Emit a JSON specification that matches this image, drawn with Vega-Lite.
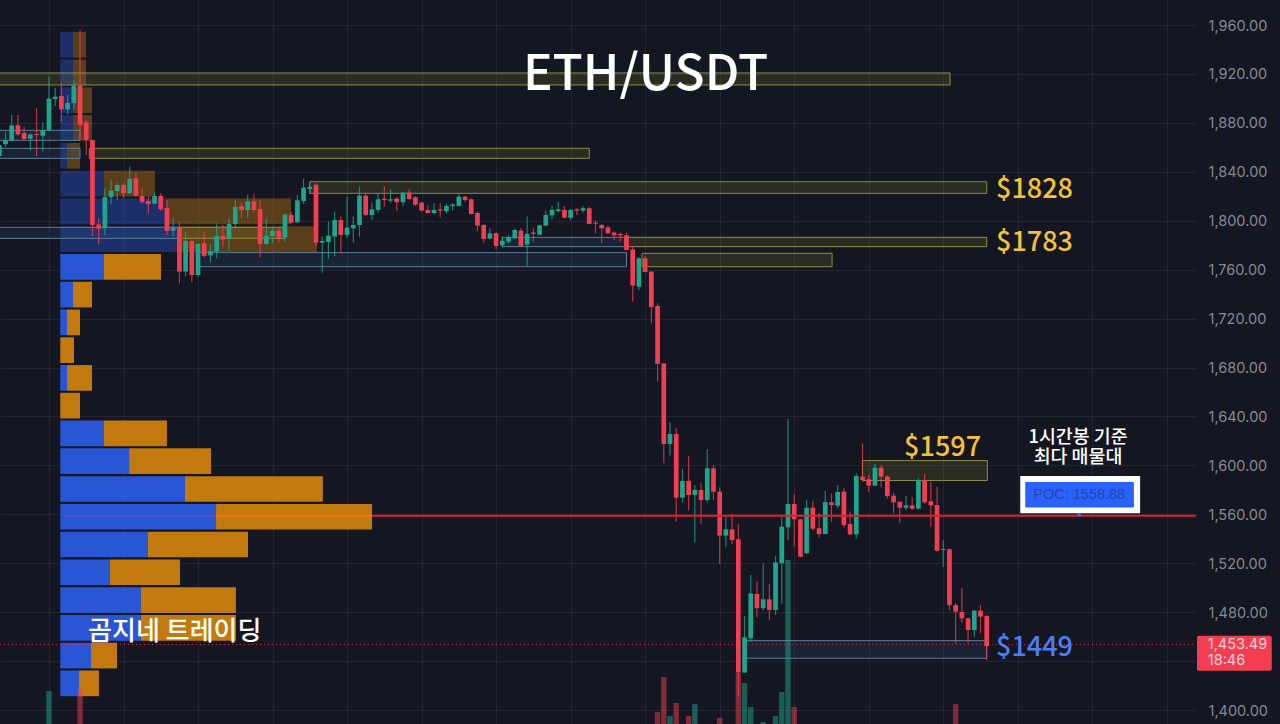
{
  "$schema": "https://vega.github.io/schema/vega-lite/v6.json",
  "width": 1196,
  "height": 724,
  "autosize": {"type": "none"},
  "padding": {"left": 0, "top": 0, "right": 84, "bottom": 0},
  "background": "#141621",
  "view": {"stroke": null},
  "datasets": {
    "candles": [
      {"i":0,"o":1852.9,"h":1864.6,"l":1852.4,"c":1861.9},{"i":1,"o":1862.5,"h":1872.8,"l":1860.5,"c":1866},{"i":2,"o":1866,"h":1886.4,"l":1864.6,"c":1878},{"i":3,"o":1878,"h":1886.4,"l":1869.3,"c":1870.6},
      {"i":4,"o":1871.7,"h":1876.9,"l":1866,"c":1866.8},{"i":5,"o":1867.1,"h":1872,"l":1857.3,"c":1870.4},{"i":6,"o":1870.9,"h":1891.9,"l":1852.9,"c":1870.1},{"i":7,"o":1869.5,"h":1880.2,"l":1856.5,"c":1873.9},
      {"i":8,"o":1873.9,"h":1917.8,"l":1873.4,"c":1899.8},{"i":9,"o":1899.5,"h":1908.8,"l":1893.8,"c":1901.4},{"i":10,"o":1902,"h":1913.1,"l":1881,"c":1891.1},{"i":11,"o":1891.1,"h":1902.8,"l":1887,"c":1896.2},
      {"i":12,"o":1896.2,"h":1915,"l":1891.1,"c":1910.4},{"i":13,"o":1910.4,"h":1955.9,"l":1866,"c":1878.3},{"i":14,"o":1880.4,"h":1882.4,"l":1853.7,"c":1866},{"i":15,"o":1866,"h":1866,"l":1787.5,"c":1796.5},
      {"i":16,"o":1797,"h":1802,"l":1780.7,"c":1793.5},{"i":17,"o":1793.8,"h":1826.5,"l":1788.3,"c":1819.4},{"i":18,"o":1819.1,"h":1833.8,"l":1813.7,"c":1824.6},{"i":19,"o":1824.3,"h":1831.1,"l":1816.9,"c":1829.2},
      {"i":20,"o":1829.2,"h":1830.6,"l":1818.3,"c":1822.4},{"i":21,"o":1822.4,"h":1844.2,"l":1821.9,"c":1834.1},{"i":22,"o":1834.7,"h":1838.8,"l":1819.7,"c":1820.5},{"i":23,"o":1820.2,"h":1826.5,"l":1813.7,"c":1815.3},
      {"i":24,"o":1816.1,"h":1820.2,"l":1805.5,"c":1813.7},{"i":25,"o":1814,"h":1822.9,"l":1813.7,"c":1820.2},{"i":26,"o":1820.2,"h":1822.4,"l":1808.2,"c":1809.3},{"i":27,"o":1810.4,"h":1816.9,"l":1788.3,"c":1791.6},
      {"i":28,"o":1791.9,"h":1802,"l":1787,"c":1794.6},{"i":29,"o":1794,"h":1799.2,"l":1748.8,"c":1758.4},{"i":30,"o":1758.4,"h":1791,"l":1754.8,"c":1783.4},{"i":31,"o":1783.2,"h":1784.2,"l":1750.2,"c":1755.6},
      {"i":32,"o":1755.6,"h":1781.5,"l":1754.3,"c":1781},{"i":33,"o":1781.5,"h":1791,"l":1770.1,"c":1771.2},{"i":34,"o":1771.7,"h":1781,"l":1765.7,"c":1775.3},{"i":35,"o":1774.7,"h":1797.9,"l":1769.3,"c":1787.5},
      {"i":36,"o":1787.5,"h":1796.5,"l":1778.8,"c":1784.8},{"i":37,"o":1785.6,"h":1802,"l":1775.5,"c":1797.3},{"i":38,"o":1797.3,"h":1816.9,"l":1793.8,"c":1811.2},{"i":39,"o":1812,"h":1814.8,"l":1802,"c":1808.8},
      {"i":40,"o":1808.8,"h":1821,"l":1802,"c":1815.8},{"i":41,"o":1815.8,"h":1821.9,"l":1807.4,"c":1808.8},{"i":42,"o":1809.6,"h":1816.9,"l":1770.1,"c":1781},{"i":43,"o":1781,"h":1802,"l":1780.2,"c":1787.5},
      {"i":44,"o":1787.5,"h":1795.2,"l":1781.5,"c":1791.6},{"i":45,"o":1791.9,"h":1793.8,"l":1782.1,"c":1785.6},{"i":46,"o":1786.4,"h":1806,"l":1782.9,"c":1805},{"i":47,"o":1804.7,"h":1807.4,"l":1797.9,"c":1798.4},
      {"i":48,"o":1798.7,"h":1821,"l":1797.9,"c":1816.7},{"i":49,"o":1816.1,"h":1834.4,"l":1813.7,"c":1827},{"i":50,"o":1825.9,"h":1831.9,"l":1821.9,"c":1827.8},{"i":51,"o":1829.5,"h":1830.6,"l":1778.8,"c":1782.1},
      {"i":52,"o":1782.1,"h":1787,"l":1757.5,"c":1783.4},{"i":53,"o":1782.6,"h":1799.2,"l":1769,"c":1787.8},{"i":54,"o":1787,"h":1807.4,"l":1771.2,"c":1800.6},{"i":55,"o":1800.6,"h":1803.4,"l":1773.9,"c":1788.4},
      {"i":56,"o":1788.4,"h":1819.7,"l":1785.6,"c":1794.4},{"i":57,"o":1793.8,"h":1803.4,"l":1782.1,"c":1796.5},{"i":58,"o":1796.5,"h":1827.9,"l":1787,"c":1820.5},{"i":59,"o":1820.5,"h":1822.4,"l":1803.9,"c":1804.7},
      {"i":60,"o":1804.7,"h":1814.8,"l":1800.6,"c":1809.3},{"i":61,"o":1808.8,"h":1821.9,"l":1806.6,"c":1817.5},{"i":62,"o":1818.1,"h":1828.4,"l":1811.5,"c":1817},{"i":63,"o":1816.4,"h":1825.7,"l":1814.8,"c":1817.5},
      {"i":64,"o":1818.1,"h":1819.2,"l":1808.3,"c":1815.1},{"i":65,"o":1815.1,"h":1823.8,"l":1812.1,"c":1823},{"i":66,"o":1823,"h":1825.7,"l":1817,"c":1817.8},{"i":67,"o":1819.2,"h":1820.2,"l":1812.1,"c":1813.2},
      {"i":68,"o":1814.8,"h":1815.3,"l":1807.7,"c":1808.3},{"i":69,"o":1808.8,"h":1812.9,"l":1806.1,"c":1806.3},{"i":70,"o":1806.3,"h":1814.3,"l":1805.5,"c":1808.8},{"i":71,"o":1809.3,"h":1814.3,"l":1802.8,"c":1808.3},
      {"i":72,"o":1807.7,"h":1813.7,"l":1806.1,"c":1812.1},{"i":73,"o":1812.1,"h":1814.3,"l":1808.3,"c":1813.2},{"i":74,"o":1812.1,"h":1821.9,"l":1811.5,"c":1819.7},{"i":75,"o":1819.7,"h":1820.2,"l":1815.6,"c":1817},
      {"i":76,"o":1817.5,"h":1818.3,"l":1805,"c":1805.5},{"i":77,"o":1806.3,"h":1807.4,"l":1791.4,"c":1796},{"i":78,"o":1796.5,"h":1797.4,"l":1782.1,"c":1785.1},{"i":79,"o":1785.4,"h":1793.8,"l":1784.8,"c":1789.7},
      {"i":80,"o":1789.7,"h":1790.3,"l":1776.6,"c":1779.4},{"i":81,"o":1779.9,"h":1787,"l":1778.3,"c":1783.5},{"i":82,"o":1782.9,"h":1788.4,"l":1781,"c":1786.5},{"i":83,"o":1785.6,"h":1793.8,"l":1785.1,"c":1792.4},
      {"i":84,"o":1791.9,"h":1793.8,"l":1778.3,"c":1779.4},{"i":85,"o":1780.5,"h":1803.4,"l":1762.5,"c":1789.2},{"i":86,"o":1790.3,"h":1793.8,"l":1782.9,"c":1789.2},{"i":87,"o":1788.6,"h":1796.5,"l":1788.1,"c":1796.3},
      {"i":88,"o":1796,"h":1808.3,"l":1795.7,"c":1804.7},{"i":89,"o":1804.4,"h":1812.1,"l":1801.2,"c":1808.8},{"i":90,"o":1808,"h":1815.6,"l":1806.6,"c":1809.3},{"i":91,"o":1808.8,"h":1812.1,"l":1802,"c":1802.5},
      {"i":92,"o":1802.5,"h":1809.3,"l":1800.6,"c":1808.8},{"i":93,"o":1809.3,"h":1810.2,"l":1804.7,"c":1808.3},{"i":94,"o":1808.3,"h":1812.1,"l":1806.6,"c":1810.2},{"i":95,"o":1810.2,"h":1811.5,"l":1797.1,"c":1797.4},
      {"i":96,"o":1798.4,"h":1800.6,"l":1789.7,"c":1797.6},{"i":97,"o":1796.5,"h":1797.1,"l":1781.6,"c":1793.8},{"i":98,"o":1794.6,"h":1795.7,"l":1788.9,"c":1789.7},{"i":99,"o":1790.3,"h":1791.1,"l":1784.3,"c":1788.1},
      {"i":100,"o":1789.2,"h":1790.3,"l":1782.9,"c":1788.1},{"i":101,"o":1788.1,"h":1790.3,"l":1775.6,"c":1776.1},{"i":102,"o":1776.6,"h":1779.4,"l":1733.9,"c":1747},{"i":103,"o":1746.1,"h":1770.1,"l":1743.4,"c":1769.3},
      {"i":104,"o":1769.3,"h":1771.2,"l":1757.6,"c":1758.1},{"i":105,"o":1758.4,"h":1758.9,"l":1716.2,"c":1729.5},{"i":106,"o":1730.3,"h":1732.5,"l":1668.5,"c":1682.9},{"i":107,"o":1683.4,"h":1683.4,"l":1601.7,"c":1617.5},
      {"i":108,"o":1617.5,"h":1635.2,"l":1608,"c":1625.7},{"i":109,"o":1625.7,"h":1630.3,"l":1554,"c":1573.6},{"i":110,"o":1573.6,"h":1597,"l":1569.8,"c":1587.3},{"i":111,"o":1587.3,"h":1607.7,"l":1563,"c":1575.8},
      {"i":112,"o":1575.8,"h":1584,"l":1536.9,"c":1579.9},{"i":113,"o":1579.9,"h":1585.4,"l":1552.1,"c":1571.7},{"i":114,"o":1571.7,"h":1613.4,"l":1569.5,"c":1597.6},{"i":115,"o":1597.6,"h":1600.3,"l":1571.7,"c":1578.5},
      {"i":116,"o":1578.5,"h":1582.1,"l":1519.4,"c":1542.6},{"i":117,"o":1542.6,"h":1558.6,"l":1533,"c":1547.7},{"i":118,"o":1547.7,"h":1560.3,"l":1535.7,"c":1539},{"i":119,"o":1539.6,"h":1552.1,"l":1410.9,"c":1430.6},
      {"i":120,"o":1430.6,"h":1476.9,"l":1430.6,"c":1459.4},{"i":121,"o":1458.6,"h":1510.4,"l":1455.9,"c":1495.4},{"i":122,"o":1494.9,"h":1505,"l":1475.8,"c":1483.2},{"i":123,"o":1483.2,"h":1519.9,"l":1481.2,"c":1490.5},
      {"i":124,"o":1490.5,"h":1503,"l":1473.6,"c":1481.8},{"i":125,"o":1481.8,"h":1525.9,"l":1477.7,"c":1520.5},{"i":126,"o":1519.9,"h":1558.1,"l":1486.7,"c":1549.9},{"i":127,"o":1549.4,"h":1637.9,"l":1539,"c":1568.4},
      {"i":128,"o":1568.4,"h":1576.6,"l":1533.6,"c":1555.9},{"i":129,"o":1555.9,"h":1555.9,"l":1524.8,"c":1525.3},{"i":130,"o":1528.1,"h":1571.7,"l":1527.5,"c":1565.4},{"i":131,"o":1565.4,"h":1571.1,"l":1546.6,"c":1548.2},
      {"i":132,"o":1548.5,"h":1561.3,"l":1541.1,"c":1543.9},{"i":133,"o":1543.9,"h":1579.3,"l":1543.6,"c":1570},{"i":134,"o":1569.8,"h":1577.1,"l":1554,"c":1567.6},{"i":135,"o":1567,"h":1583.9,"l":1564.9,"c":1578.2},
      {"i":136,"o":1578.5,"h":1581.2,"l":1549.3,"c":1551.2},{"i":137,"o":1552,"h":1562.2,"l":1543.1,"c":1543.6},{"i":138,"o":1543.6,"h":1593.5,"l":1540.3,"c":1591.3},{"i":139,"o":1590.8,"h":1618,"l":1586.7,"c":1588},
      {"i":140,"o":1588.6,"h":1592.1,"l":1578.5,"c":1583.4},{"i":141,"o":1583.4,"h":1601.1,"l":1583.1,"c":1598.1},{"i":142,"o":1598.1,"h":1600.3,"l":1582,"c":1590.8},{"i":143,"o":1590.8,"h":1592.1,"l":1573,"c":1574.9},
      {"i":144,"o":1575.2,"h":1577.7,"l":1560.8,"c":1569.8},{"i":145,"o":1570.3,"h":1570.3,"l":1553.1,"c":1565.4},{"i":146,"o":1565.4,"h":1575.2,"l":1563.5,"c":1567.3},{"i":147,"o":1567.3,"h":1573.9,"l":1564,"c":1564.6},
      {"i":148,"o":1564.6,"h":1589.4,"l":1564,"c":1588},{"i":149,"o":1588,"h":1592.9,"l":1568.4,"c":1569.8},{"i":150,"o":1570.6,"h":1586.7,"l":1549.9,"c":1567.3},{"i":151,"o":1567.6,"h":1582.6,"l":1529.4,"c":1530.2},
      {"i":152,"o":1530.8,"h":1539,"l":1517.2,"c":1531.6},{"i":153,"o":1531.3,"h":1532.2,"l":1481.7,"c":1485.8},{"i":154,"o":1485.8,"h":1487.2,"l":1454.5,"c":1480.4},{"i":155,"o":1480.1,"h":1500,"l":1471.4,"c":1474.9},
      {"i":156,"o":1474.9,"h":1475.7,"l":1454.5,"c":1465.4},{"i":157,"o":1465.4,"h":1481.7,"l":1459.4,"c":1481.2},{"i":158,"o":1481.2,"h":1485.8,"l":1462.7,"c":1476.3},{"i":159,"o":1476.8,"h":1477.7,"l":1440.9,"c":1452.3}
    ],
    "profile": [
      {"top":1954.4,"bot":1933.4,"x0":9.82,"x1":11.87,"side":"buy"},{"top":1954.4,"bot":1933.4,"x0":11.87,"x1":13.96,"side":"sell"},
      {"top":1931.7,"bot":1910.7,"x0":9.82,"x1":11.87,"side":"buy"},{"top":1931.7,"bot":1910.7,"x0":11.87,"x1":13.96,"side":"sell"},
      {"top":1909,"bot":1888,"x0":9.82,"x1":11.87,"side":"buy"},{"top":1909,"bot":1888,"x0":11.87,"x1":14.93,"side":"sell"},
      {"top":1886.3,"bot":1865.3,"x0":9.82,"x1":11.87,"side":"buy"},{"top":1886.3,"bot":1865.3,"x0":11.87,"x1":14.93,"side":"sell"},
      {"top":1863.6,"bot":1842.6,"x0":9.82,"x1":10.9,"side":"buy"},{"top":1863.6,"bot":1842.6,"x0":10.9,"x1":13,"side":"sell"},
      {"top":1840.9,"bot":1819.9,"x0":9.82,"x1":16.86,"side":"buy"},{"top":1840.9,"bot":1819.9,"x0":16.86,"x1":25.07,"side":"sell"},
      {"top":1818.2,"bot":1797.2,"x0":9.82,"x1":26.84,"side":"buy"},{"top":1818.2,"bot":1797.2,"x0":26.84,"x1":46.97,"side":"sell"},
      {"top":1795.5,"bot":1774.5,"x0":9.82,"x1":28.6,"side":"buy"},{"top":1795.5,"bot":1774.5,"x0":28.6,"x1":51.16,"side":"sell"},
      {"top":1772.8,"bot":1751.8,"x0":9.82,"x1":16.86,"side":"buy"},{"top":1772.8,"bot":1751.8,"x0":16.86,"x1":26.04,"side":"sell"},
      {"top":1750.1,"bot":1729.1,"x0":9.82,"x1":11.87,"side":"buy"},{"top":1750.1,"bot":1729.1,"x0":11.87,"x1":14.93,"side":"sell"},
      {"top":1727.4,"bot":1706.4,"x0":9.82,"x1":10.9,"side":"buy"},{"top":1727.4,"bot":1706.4,"x0":10.9,"x1":13,"side":"sell"},
      {"top":1704.7,"bot":1683.7,"x0":9.82,"x1":12.03,"side":"sell"},
      {"top":1682,"bot":1661,"x0":9.82,"x1":10.9,"side":"buy"},{"top":1682,"bot":1661,"x0":10.9,"x1":14.93,"side":"sell"},
      {"top":1659.3,"bot":1638.3,"x0":9.82,"x1":13,"side":"sell"},
      {"top":1636.6,"bot":1615.6,"x0":9.82,"x1":16.86,"side":"buy"},{"top":1636.6,"bot":1615.6,"x0":16.86,"x1":27,"side":"sell"},
      {"top":1613.9,"bot":1592.9,"x0":9.82,"x1":20.9,"side":"buy"},{"top":1613.9,"bot":1592.9,"x0":20.9,"x1":34.09,"side":"sell"},
      {"top":1591.2,"bot":1570.2,"x0":9.82,"x1":29.9,"side":"buy"},{"top":1591.2,"bot":1570.2,"x0":29.9,"x1":52.1,"side":"sell"},
      {"top":1568.5,"bot":1547.5,"x0":9.82,"x1":34.9,"side":"buy"},{"top":1568.5,"bot":1547.5,"x0":34.9,"x1":60.02,"side":"sell"},
      {"top":1545.8,"bot":1524.8,"x0":9.82,"x1":23.9,"side":"buy"},{"top":1545.8,"bot":1524.8,"x0":23.9,"x1":40.05,"side":"sell"},
      {"top":1523.1,"bot":1502.1,"x0":9.82,"x1":17.83,"side":"buy"},{"top":1523.1,"bot":1502.1,"x0":17.83,"x1":29.1,"side":"sell"},
      {"top":1500.4,"bot":1479.4,"x0":9.82,"x1":22.8,"side":"buy"},{"top":1500.4,"bot":1479.4,"x0":22.8,"x1":38.1,"side":"sell"},
      {"top":1477.7,"bot":1456.7,"x0":9.82,"x1":22.8,"side":"buy"},{"top":1477.7,"bot":1456.7,"x0":22.8,"x1":38.1,"side":"sell"},
      {"top":1455,"bot":1434,"x0":9.82,"x1":14.77,"side":"buy"},{"top":1455,"bot":1434,"x0":14.77,"x1":18.95,"side":"sell"},
      {"top":1432.3,"bot":1411.3,"x0":9.82,"x1":12.83,"side":"buy"},{"top":1432.3,"bot":1411.3,"x0":12.83,"x1":16.05,"side":"sell"}
    ],
    "zones": [
      {"x0":-1,"x1":153.1,"top":1920.8,"bot":1911,"kind":"supply"},
      {"x0":14.5,"x1":95,"top":1859.2,"bot":1851,"kind":"supply"},
      {"x0":50,"x1":159,"top":1831.9,"bot":1822.4,"kind":"supply"},
      {"x0":100.7,"x1":159,"top":1786.4,"bot":1778.8,"kind":"supply"},
      {"x0":103.5,"x1":134.1,"top":1773.4,"bot":1762.4,"kind":"supply"},
      {"x0":139,"x1":159.1,"top":1603.9,"bot":1587.6,"kind":"supply"},
      {"x0":29,"x1":46,"top":1794.6,"bot":1785.6,"kind":"supply"},
      {"x0":-1,"x1":13,"top":1873.9,"bot":1865.7,"kind":"demand"},
      {"x0":-1,"x1":13,"top":1859.2,"bot":1851,"kind":"demand"},
      {"x0":-1,"x1":29,"top":1794.6,"bot":1785.6,"kind":"demand"},
      {"x0":32,"x1":101,"top":1773.9,"bot":1762.4,"kind":"demand"},
      {"x0":81,"x1":101,"top":1786.4,"bot":1778.8,"kind":"demand"},
      {"x0":120.3,"x1":159,"top":1456.7,"bot":1442.3,"kind":"demand"}
    ],
    "volume": [
      {"i":8,"vol":33,"dir":"up"},{"i":13,"vol":34,"dir":"down"},{"i":106,"vol":12,"dir":"down"},{"i":107,"vol":47,"dir":"down"},
      {"i":108,"vol":8,"dir":"up"},{"i":109,"vol":21,"dir":"down"},{"i":111,"vol":8,"dir":"down"},{"i":112,"vol":20,"dir":"up"},
      {"i":116,"vol":6,"dir":"down"},{"i":119,"vol":51,"dir":"down"},{"i":120,"vol":41,"dir":"up"},{"i":121,"vol":17,"dir":"up"},
      {"i":123,"vol":2,"dir":"up"},{"i":125,"vol":8,"dir":"up"},{"i":126,"vol":32,"dir":"up"},{"i":127,"vol":164,"dir":"up"},
      {"i":128,"vol":17,"dir":"down"},{"i":154,"vol":20,"dir":"down"}
    ]
  },
  "resolve": {"scale": {"y": "independent"}},
  "layer": [
    {
      "layer": [
        {
          "data": {"name": "profile"},
          "mark": {"type": "rect"},
          "encoding": {
            "x": {"field": "x0", "type": "quantitative", "scale": {"domain": [0.113, 192.7], "nice": false, "zero": false, "padding": 0},
              "axis": {"values": [8,20,32,44,56,68,80,92,104,116,128,140,152,164,176,188], "labels": false, "ticks": false, "domain": false, "title": null, "grid": true, "gridColor": "#232632"}},
            "x2": {"field": "x1"},
            "y": {"field": "top", "type": "quantitative", "scale": {"domain": [1388.56, 1980.44], "nice": false, "zero": false},
              "axis": {"orient": "right", "values": [1400,1440,1480,1520,1560,1600,1640,1680,1720,1760,1800,1840,1880,1920,1960], "format": ",.2f", "title": null, "domain": false, "ticks": false, "labelPadding": 12, "labelOffset": 1, "labelColor": "#868993", "labelFont": "Inter", "labelFontSize": 14.5, "grid": true, "gridColor": "#232632"}},
            "y2": {"field": "bot"},
            "color": {"field": "side", "type": "nominal", "scale": {"domain": ["buy", "sell"], "range": ["#2856d4", "#c27a0e"]}, "legend": null},
            "opacity": {"condition": {"test": "datum.top > 1773", "value": 0.4}, "value": 1}
          }
        },
        {
          "data": {"name": "zones"},
          "transform": [{"filter": "datum.kind == 'demand'"}],
          "mark": {"type": "rect", "fill": "#2d5a82", "fillOpacity": 0.2, "stroke": "#5d7f9c", "strokeWidth": 1},
          "encoding": {
            "x": {"field": "x0", "type": "quantitative"},
            "x2": {"field": "x1"},
            "y": {"field": "top", "type": "quantitative"},
            "y2": {"field": "bot"}
          }
        },
        {
          "data": {"name": "zones"},
          "transform": [{"filter": "datum.kind == 'supply'"}],
          "mark": {"type": "rect", "fill": "#7d7d2e", "fillOpacity": 0.22, "stroke": "#8d8d3f", "strokeWidth": 1},
          "encoding": {
            "x": {"field": "x0", "type": "quantitative"},
            "x2": {"field": "x1"},
            "y": {"field": "top", "type": "quantitative"},
            "y2": {"field": "bot"}
          }
        },
        {
          "data": {"values": [{"x0": 0.113, "x1": 192.7, "price": 1453.49}]},
          "mark": {"type": "rule", "color": "#f23d52", "strokeWidth": 1, "strokeDash": [1, 3], "opacity": 0.8},
          "encoding": {
            "x": {"field": "x0", "type": "quantitative"},
            "x2": {"field": "x1"},
            "y": {"field": "price", "type": "quantitative"}
          }
        },
        {
          "data": {"name": "candles"},
          "mark": {"type": "rule", "strokeWidth": 1.2, "opacity": 0.75},
          "encoding": {
            "x": {"field": "i", "type": "quantitative"},
            "y": {"field": "l", "type": "quantitative"},
            "y2": {"field": "h"},
            "color": {"condition": {"test": "datum.c >= datum.o", "value": "#1ea58c"}, "value": "#f23d52"}
          }
        },
        {
          "data": {"name": "candles"},
          "mark": {"type": "bar", "size": 4.7, "orient": "vertical"},
          "encoding": {
            "x": {"field": "i", "type": "quantitative"},
            "y": {"field": "o", "type": "quantitative"},
            "y2": {"field": "c"},
            "color": {"condition": {"test": "datum.c >= datum.o", "value": "#1ea58c"}, "value": "#f23d52"}
          }
        },
        {
          "data": {"values": [{"x0": 10.2, "x1": 34.9, "price": 1558.88}]},
          "mark": {"type": "rule", "color": "#6a48b8", "strokeWidth": 1.5},
          "encoding": {
            "x": {"field": "x0", "type": "quantitative"},
            "x2": {"field": "x1"},
            "y": {"field": "price", "type": "quantitative"}
          }
        },
        {
          "data": {"values": [{"x0": 34.9, "x1": 60.02, "price": 1558.88}]},
          "mark": {"type": "rule", "color": "#f0740f", "strokeWidth": 2},
          "encoding": {
            "x": {"field": "x0", "type": "quantitative"},
            "x2": {"field": "x1"},
            "y": {"field": "price", "type": "quantitative"}
          }
        },
        {
          "data": {"values": [{"x0": 60.02, "x1": 192.7, "price": 1558.88}]},
          "mark": {"type": "rule", "color": "#e01f26", "strokeWidth": 2},
          "encoding": {
            "x": {"field": "x0", "type": "quantitative"},
            "x2": {"field": "x1"},
            "y": {"field": "price", "type": "quantitative"}
          }
        },
        {
          "data": {"values": [{"x0": 164.4, "x1": 183.7, "top": 1591.3, "bot": 1560.8}]},
          "mark": {"type": "rect", "fill": "#ffffff"},
          "encoding": {
            "x": {"field": "x0", "type": "quantitative"},
            "x2": {"field": "x1"},
            "y": {"field": "top", "type": "quantitative"},
            "y2": {"field": "bot"}
          }
        },
        {
          "data": {"values": [{"x0": 165.2, "x1": 182.7, "top": 1586.4, "bot": 1565.6}]},
          "mark": {"type": "rect", "fill": "#2962ff", "cornerRadius": 1},
          "encoding": {
            "x": {"field": "x0", "type": "quantitative"},
            "x2": {"field": "x1"},
            "y": {"field": "top", "type": "quantitative"},
            "y2": {"field": "bot"}
          }
        },
        {
          "data": {"values": [{"i": 173.9, "price": 1559.6}]},
          "mark": {"type": "point", "filled": true, "size": 14, "color": "#3f6fe8", "opacity": 1},
          "encoding": {
            "x": {"field": "i", "type": "quantitative"},
            "y": {"field": "price", "type": "quantitative"}
          }
        },
        {
          "data": {"values": [{"x0": 192.86, "x1": 204.9, "top": 1460.7, "bot": 1432.1}]},
          "mark": {"type": "rect", "fill": "#f23d52", "cornerRadius": 2},
          "encoding": {
            "x": {"field": "x0", "type": "quantitative"},
            "x2": {"field": "x1"},
            "y": {"field": "top", "type": "quantitative"},
            "y2": {"field": "bot"}
          }
        },
        {
          "data": {"values": [{"i": 194.6, "price": 1453, "label": "1,453.49"}, {"i": 194.6, "price": 1439.8, "label": "18:46"}]},
          "mark": {"type": "text", "align": "left", "baseline": "middle", "font": "Inter", "fontSize": 14.5, "color": "#ffd5da"},
          "encoding": {
            "x": {"field": "i", "type": "quantitative"},
            "y": {"field": "price", "type": "quantitative"},
            "text": {"field": "label"}
          }
        },
        {
          "data": {"values": [{"i": 173.9, "price": 1575.8, "label": "POC: 1558.88"}]},
          "mark": {"type": "text", "align": "center", "baseline": "middle", "font": "Liberation Sans", "fontSize": 14.5, "color": "#2446a8"},
          "encoding": {
            "x": {"field": "i", "type": "quantitative"},
            "y": {"field": "price", "type": "quantitative"},
            "text": {"field": "label"}
          }
        },
        {
          "data": {"values": [{"i": 104.06, "price": 1919.2, "label": "ETH/USDT"}]},
          "mark": {"type": "text", "align": "center", "baseline": "middle", "font": "Noto Sans CJK KR", "fontWeight": 500, "fontSize": 49.5, "color": "#ffffff"},
          "encoding": {
            "x": {"field": "i", "type": "quantitative"},
            "y": {"field": "price", "type": "quantitative"},
            "text": {"field": "label"}
          }
        },
        {
          "data": {"values": [{"i": 160.5, "price": 1825.2, "label": "$1828"}, {"i": 160.5, "price": 1781.9, "label": "$1783"}, {"i": 145.7, "price": 1614.3, "label": "$1597"}]},
          "mark": {"type": "text", "align": "left", "baseline": "middle", "font": "Noto Sans CJK KR", "fontWeight": 500, "fontSize": 27, "color": "#f5c232"},
          "encoding": {
            "x": {"field": "i", "type": "quantitative"},
            "y": {"field": "price", "type": "quantitative"},
            "text": {"field": "label"}
          }
        },
        {
          "data": {"values": [{"i": 160.5, "price": 1450.8, "label": "$1449"}]},
          "mark": {"type": "text", "align": "left", "baseline": "middle", "font": "Noto Sans CJK KR", "fontWeight": 500, "fontSize": 27, "color": "#4a80f0"},
          "encoding": {
            "x": {"field": "i", "type": "quantitative"},
            "y": {"field": "price", "type": "quantitative"},
            "text": {"field": "label"}
          }
        },
        {
          "data": {"values": [{"i": 173.7, "price": 1623.2, "label": "1시간봉 기준"}, {"i": 173.7, "price": 1606.8, "label": "최다 매물대"}]},
          "mark": {"type": "text", "align": "center", "baseline": "middle", "font": "Noto Sans CJK KR", "fontWeight": 500, "fontSize": 18.4, "color": "#ffffff"},
          "encoding": {
            "x": {"field": "i", "type": "quantitative"},
            "y": {"field": "price", "type": "quantitative"},
            "text": {"field": "label"}
          }
        },
        {
          "data": {"values": [{"i": 14.3, "price": 1463.8, "label": "곰지네 트레이딩"}]},
          "mark": {"type": "text", "align": "left", "baseline": "middle", "font": "Noto Sans CJK KR", "fontWeight": 500, "fontSize": 26, "color": "#ffffff"},
          "encoding": {
            "x": {"field": "i", "type": "quantitative"},
            "y": {"field": "price", "type": "quantitative"},
            "text": {"field": "label"}
          }
        }
      ]
    },
    {
      "data": {"name": "volume"},
      "mark": {"type": "bar", "size": 5.4, "opacity": 0.5, "orient": "vertical"},
      "encoding": {
        "x": {"field": "i", "type": "quantitative"},
        "y": {"field": "vol", "type": "quantitative", "scale": {"domain": [0, 724], "nice": false}, "axis": null},
        "color": {"condition": {"test": "datum.dir == 'up'", "value": "#1ea58c"}, "value": "#f23d52"}
      }
    }
  ]
}
